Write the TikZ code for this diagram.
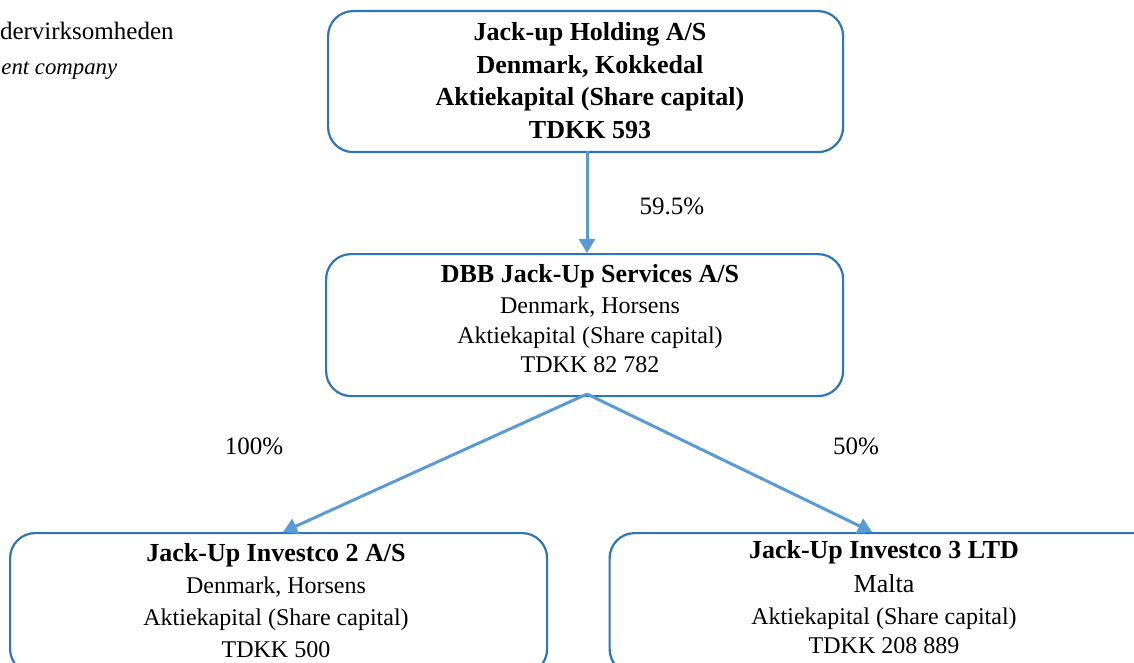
\documentclass[tikz,border=0pt]{standalone}
\usepackage{fontspec}
\setmainfont{Liberation Serif}
\usetikzlibrary{arrows.meta}
\definecolor{boxblue}{RGB}{46,117,182}
\definecolor{arrowblue}{RGB}{91,155,213}
\begin{document}
\begin{tikzpicture}[x=0.5pt,y=-0.5pt,
  entity/.style={draw=boxblue, line width=1.1pt, rounded corners=12.5pt, anchor=north west, inner sep=0pt},
  ttl/.style={anchor=base, font=\fontsize{13}{15}\selectfont\bfseries},
  bld/.style={anchor=base, font=\fontsize{13}{15}\selectfont\bfseries},
  reg/.style={anchor=base, font=\fontsize{12}{14}\selectfont},
  hdr/.style={anchor=base east, inner xsep=0pt, font=\fontsize{12.5}{14}\selectfont},
  pct/.style={anchor=base, font=\fontsize{12.5}{14}\selectfont},
  own/.style={draw=arrowblue, line width=1.5pt, -{Triangle[length=7pt,width=8pt]}}]
\useasboundingbox (0,0) rectangle (1134,663);
\clip (0,0) rectangle (1134,663);
% header
\node[hdr] (hdr1) at (174,40) {dervirksomheden};
\node[hdr, anchor=base west, font=\fontsize{11.4}{14}\selectfont\itshape] (hdr2) at (1,75) {ent company};
% boxes
\node[entity, minimum width=257.5pt, minimum height=70.5pt] (top) at (327,10) {};
\node[entity, minimum width=258.5pt, minimum height=71pt] (mid) at (325,253) {};
\node[entity, minimum width=268.5pt, minimum height=70.5pt] (bl) at (9,532) {};
\node[entity, minimum width=275.5pt, minimum height=70.5pt] (br) at (608.5,532) {};
% top text
\node[bld] (t1) at (590,41) {Jack-up Holding A/S};
\node[bld] (t2) at (590,74) {Denmark, Kokkedal};
\node[bld] (t3) at (590,106) {Aktiekapital (Share capital)};
\node[bld] (t4) at (590,139) {TDKK 593};
% middle text
\node[ttl] (m1) at (590,282) {DBB Jack-Up Services A/S};
\node[reg] (m2) at (590,313) {Denmark, Horsens};
\node[reg] (m3) at (590,343) {Aktiekapital (Share capital)};
\node[reg] (m4) at (590,372) {TDKK 82 782};
% bottom left text
\node[ttl] (l1) at (276,561) {Jack-Up Investco 2 A/S};
\node[reg] (l2) at (276,593) {Denmark, Horsens};
\node[reg] (l3) at (276,625) {Aktiekapital (Share capital)};
\node[reg] (l4) at (276,657) {TDKK 500};
% bottom right text
\node[ttl] (r1) at (884,558) {Jack-Up Investco 3 LTD};
\node[reg, font=\fontsize{13}{15}\selectfont] (r2) at (884,592) {Malta};
\node[reg] (r3) at (884,624) {Aktiekapital (Share capital)};
\node[reg] (r4) at (884,653) {TDKK 208 889};
% connector points
\coordinate (topout) at (587,151);
\coordinate (midin) at (587,253);
\coordinate (midout) at (587,394);
\coordinate (blin) at (283,532);
\coordinate (brin) at (872,532);
% connectors
\draw[own] (topout) -- (midin);
\draw[own] (midout) -- (blin);
\draw[own] (midout) -- (brin);
% labels
\node[pct] (p1) at (672,214) {59.5\%};
\node[pct] (p2) at (254,454) {100\%};
\node[pct] (p3) at (856,454) {50\%};
\end{tikzpicture}
\end{document}
